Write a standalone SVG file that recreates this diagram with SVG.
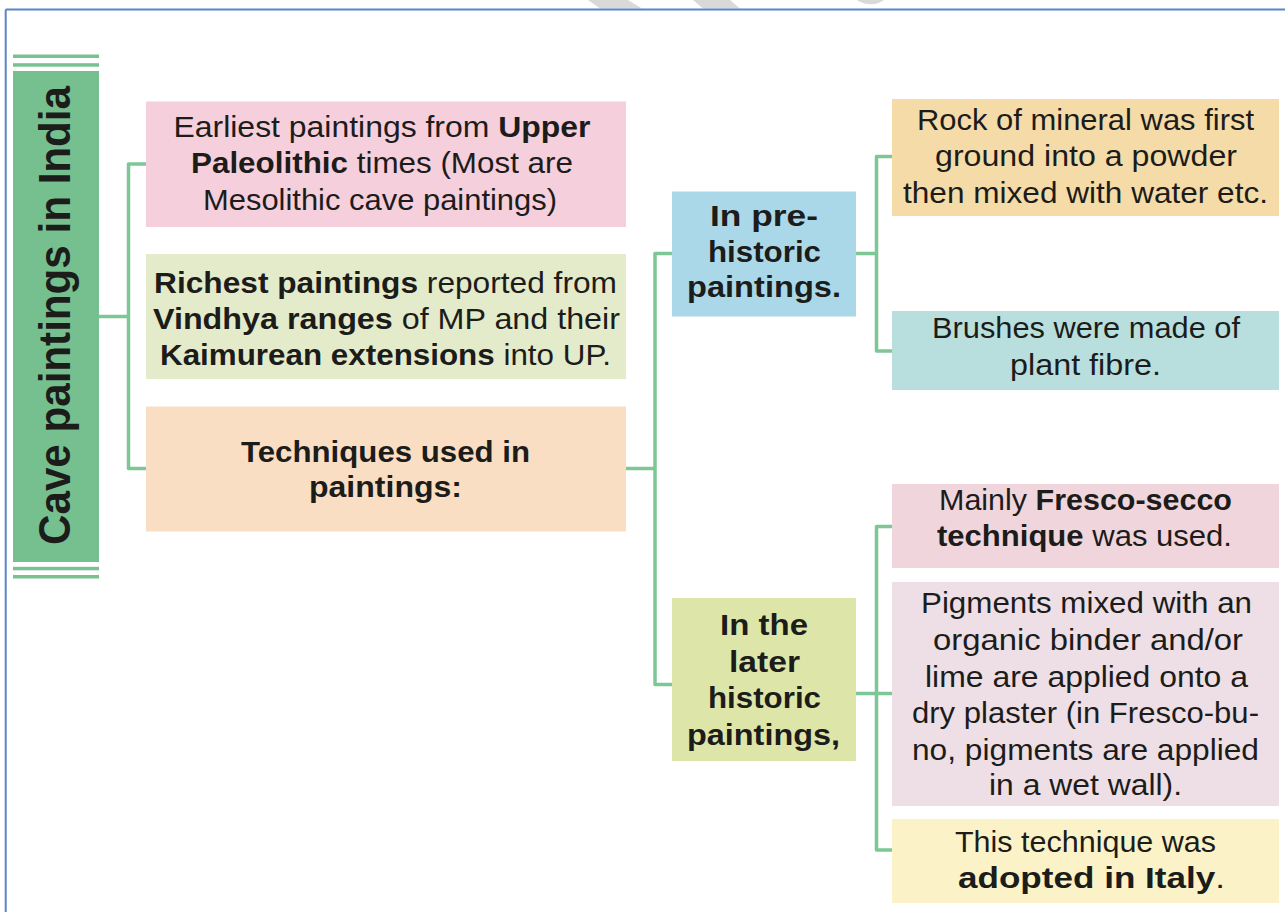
<svg xmlns="http://www.w3.org/2000/svg" width="1285" height="912" viewBox="0 0 1285 912">
<style>
text{font-family:"Liberation Sans",Arial,sans-serif;fill:#1c1c1a;text-anchor:middle;}
.t{font-size:30px;}
.b{font-weight:bold;}
.conn{fill:none;stroke:#7cc795;stroke-width:3.5;stroke-linejoin:round;}
.dbl{fill:#78c291;}
</style>
<rect x="0" y="0" width="1285" height="912" fill="#ffffff"/>
<g id="watermark" fill="#d9d9d9">
<polygon points="588,0 628,0 642,8.5 600,8.5"/>
<polygon points="693,0 730,0 740,8.5 703,8.5"/>
<path d="M857,0 L884,0 Q878,5 868,4 Q861,3 857,0 Z"/>
</g>
<g id="frame" fill="none" stroke="#5b86c5" stroke-width="2">
<line x1="5.7" y1="9.5" x2="1285" y2="9.5"/>
<line x1="5.7" y1="9.5" x2="5.7" y2="912"/>
</g>
<g id="connectors" class="conn">
<path d="M99,316.5 H128.5"/>
<path d="M146,164 H128.5 V468.5 H146"/>
<path d="M626,468.5 H655"/>
<path d="M672,253.5 H655 V684.5 H672"/>
<path d="M856,253.5 H876.5"/>
<path d="M892,156.5 H876.5 V351 H892"/>
<path d="M856,693.5 H892"/>
<path d="M892,526.5 H876.5 V850 H892"/>
</g>
<g id="title">
<rect class="dbl" x="13" y="54.5" width="86" height="3.5"/>
<rect class="dbl" x="13" y="63.2" width="86" height="3.5"/>
<rect x="13" y="71" width="86" height="491" fill="#75c08e"/>
<rect class="dbl" x="13" y="566.8" width="86" height="3.5"/>
<rect class="dbl" x="13" y="575" width="86" height="3.5"/>
<text class="b" font-size="44" transform="translate(70,315.5) rotate(-90)" textLength="459" lengthAdjust="spacingAndGlyphs">Cave paintings in India</text>
</g>
<g id="node-earliest">
<rect x="146" y="101.5" width="480" height="125.5" fill="#f6cfdc"/>
<text class="t" x="382" y="137" textLength="417" lengthAdjust="spacingAndGlyphs">Earliest paintings from <tspan class="b">Upper</tspan></text>
<text class="t" x="382" y="173" textLength="382" lengthAdjust="spacingAndGlyphs"><tspan class="b">Paleolithic</tspan> times (Most are</text>
<text class="t" x="380" y="210" textLength="354" lengthAdjust="spacingAndGlyphs">Mesolithic cave paintings)</text>
</g>
<g id="node-richest">
<rect x="146" y="254" width="480" height="125" fill="#e4ebcb"/>
<text class="t" x="385.5" y="293" textLength="463" lengthAdjust="spacingAndGlyphs"><tspan class="b">Richest paintings</tspan> reported from</text>
<text class="t" x="386.5" y="329" textLength="467" lengthAdjust="spacingAndGlyphs"><tspan class="b">Vindhya ranges</tspan> of MP and their</text>
<text class="t" x="385.5" y="365" textLength="451" lengthAdjust="spacingAndGlyphs"><tspan class="b">Kaimurean extensions</tspan> into UP.</text>
</g>
<g id="node-techniques">
<rect x="146" y="406.5" width="480" height="125" fill="#f9dec4"/>
<text class="t b" x="385.5" y="462" textLength="289" lengthAdjust="spacingAndGlyphs">Techniques used in</text>
<text class="t b" x="385.5" y="497" textLength="153" lengthAdjust="spacingAndGlyphs">paintings:</text>
</g>
<g id="node-prehistoric">
<rect x="672" y="191.5" width="184" height="125" fill="#aad8e9"/>
<text class="t b" x="764" y="226" textLength="108" lengthAdjust="spacingAndGlyphs">In pre-</text>
<text class="t b" x="764.5" y="262" textLength="113" lengthAdjust="spacingAndGlyphs">historic</text>
<text class="t b" x="764" y="297" textLength="154" lengthAdjust="spacingAndGlyphs">paintings.</text>
</g>
<g id="node-later">
<rect x="672" y="598" width="184" height="163" fill="#dde6a8"/>
<text class="t b" x="764" y="635" textLength="88" lengthAdjust="spacingAndGlyphs">In the</text>
<text class="t b" x="764.5" y="672" textLength="71" lengthAdjust="spacingAndGlyphs">later</text>
<text class="t b" x="764.5" y="708" textLength="113" lengthAdjust="spacingAndGlyphs">historic</text>
<text class="t b" x="763.5" y="745" textLength="153" lengthAdjust="spacingAndGlyphs">paintings,</text>
</g>
<g id="node-rock">
<rect x="892" y="99" width="387" height="117" fill="#f5dba7"/>
<text class="t" x="1085.5" y="130" textLength="337" lengthAdjust="spacingAndGlyphs">Rock of mineral was first</text>
<text class="t" x="1086" y="166" textLength="302" lengthAdjust="spacingAndGlyphs">ground into a powder</text>
<text class="t" x="1085.5" y="203" textLength="365" lengthAdjust="spacingAndGlyphs">then mixed with water etc.</text>
</g>
<g id="node-brushes">
<rect x="892" y="311" width="387" height="79" fill="#b8dfdd"/>
<text class="t" x="1086" y="338" textLength="308" lengthAdjust="spacingAndGlyphs">Brushes were made of</text>
<text class="t" x="1085.5" y="375" textLength="151" lengthAdjust="spacingAndGlyphs">plant fibre.</text>
</g>
<g id="node-fresco">
<rect x="892" y="484" width="387" height="84" fill="#f0d5dc"/>
<text class="t" x="1085.5" y="510" textLength="293" lengthAdjust="spacingAndGlyphs">Mainly <tspan class="b">Fresco-secco</tspan></text>
<text class="t" x="1084.5" y="546" textLength="295" lengthAdjust="spacingAndGlyphs"><tspan class="b">technique</tspan> was used.</text>
</g>
<g id="node-pigments">
<rect x="892" y="582" width="387" height="224" fill="#eedfe6"/>
<text class="t" x="1086.5" y="613" textLength="331" lengthAdjust="spacingAndGlyphs">Pigments mixed with an</text>
<text class="t" x="1088" y="650" textLength="310" lengthAdjust="spacingAndGlyphs">organic binder and/or</text>
<text class="t" x="1086.5" y="687" textLength="323" lengthAdjust="spacingAndGlyphs">lime are applied onto a</text>
<text class="t" x="1085.5" y="723" textLength="347" lengthAdjust="spacingAndGlyphs">dry plaster (in Fresco-bu-</text>
<text class="t" x="1085.5" y="760" textLength="347" lengthAdjust="spacingAndGlyphs">no, pigments are applied</text>
<text class="t" x="1085.5" y="795" textLength="193" lengthAdjust="spacingAndGlyphs">in a wet wall).</text>
</g>
<g id="node-italy">
<rect x="892" y="819" width="387" height="84" fill="#fbf3c7"/>
<text class="t" x="1085.5" y="852" textLength="261" lengthAdjust="spacingAndGlyphs">This technique was</text>
<text class="t" x="1091.5" y="888" textLength="267" lengthAdjust="spacingAndGlyphs"><tspan class="b">adopted in Italy</tspan>.</text>
</g>
</svg>
